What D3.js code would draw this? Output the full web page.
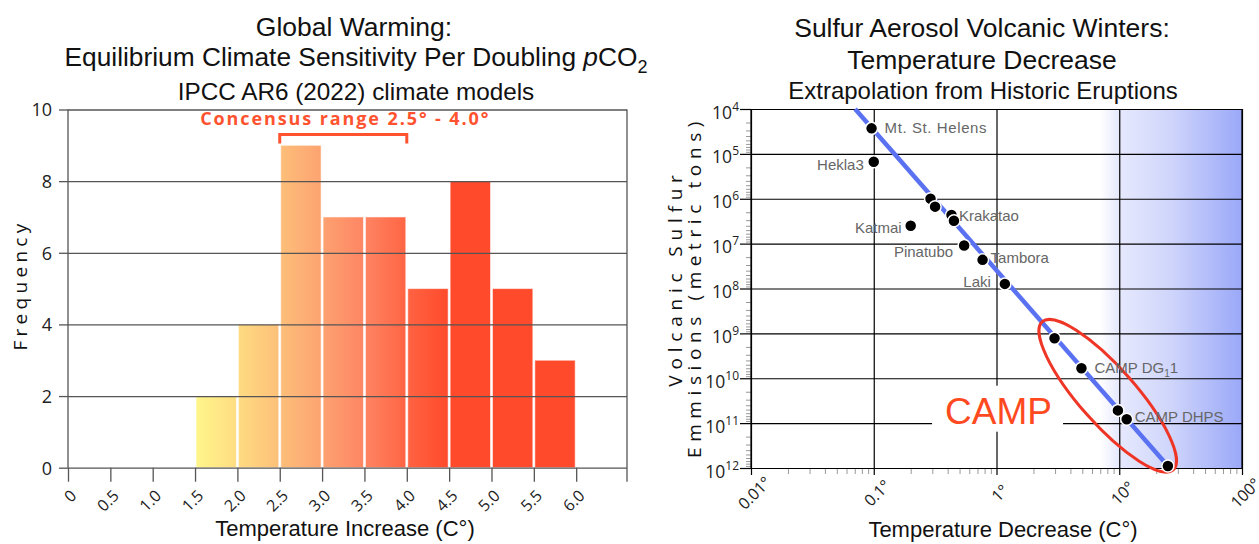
<!DOCTYPE html>
<html>
<head>
<meta charset="utf-8">
<script src="https://cdn.jsdelivr.net/npm/d3@7"></script>
<style>
  html, body { margin: 0; padding: 0; background: #fff; }
  svg { display: block; }
</style>
</head>
<body>
<script>
// ---------------- DATA: left chart (ECS histogram) ----------------
const binStart = [1.5, 2.0, 2.5, 3.0, 3.5, 4.0, 4.5, 5.0, 5.5];
const binEnd   = [2.0, 2.5, 3.0, 3.5, 4.0, 4.5, 5.0, 5.5, 6.0];
const frequency = [2, 4, 9, 7, 7, 5, 8, 5, 3];
const ecsTickValues = [0, 0.5, 1.0, 1.5, 2.0, 2.5, 3.0, 3.5, 4.0, 4.5, 5.0, 5.5, 6.0];
const ecsTickLabels = ["0", "0.5", "1.0", "1.5", "2.0", "2.5", "3.0", "3.5", "4.0", "4.5", "5.0", "5.5", "6.0"];
const freqTicks = [0, 2, 4, 6, 8, 10];
const consensusRange = [2.5, 4.0];
const consensusLevel = 9.3;
const consensusText = "Concensus range 2.5° - 4.0°";

// ---------------- DATA: right chart (volcanic winters) ----------------
const eruptionName = ["Mt. St. Helens", "Hekla3", "Katmai", "", "", "", "Krakatao", "Pinatubo", "Tambora", "Laki", "", "CAMP DG11", "", "CAMP DHPS", ""];
const tempDecrease = [0.096, 0.1, 0.2, 0.29, 0.316, 0.43, 0.45, 0.545, 0.77, 1.17, 2.97, 4.92, 9.75, 11.5, 24.9];
const sulfurTons   = [2.7e4, 1.5e5, 4e6, 1e6, 1.5e6, 2.3e6, 3.1e6, 1.1e7, 2.3e7, 7.9e7, 1.28e9, 5.96e9, 5.2e10, 8.2e10, 9e11];
const fitTemp   = [0.0705, 24.9];
const fitSulfur = [1e4, 9e11];
const tempTicks = [0.01, 0.1, 1, 10, 100];
const tempTickLabels = ["0.01°", "0.1°", "1°", "10°", "100°"];
const sulfurExponents = [4, 5, 6, 7, 8, 9, 10, 11, 12];
const campEllipseTemp = [2.36, 27.5];
const campEllipseSulfur = [5.5e8, 1.1e12];
const campLabelTemp = 0.381;
const campLabelSulfur = 1.03e11;

// ---------------- presentation (not data) ----------------
const labelPlacement = {
  "Mt. St. Helens": {dx: 13, dy: 5, anchor: "start"},
  "Hekla3": {dx: -10, dy: 8, anchor: "end"},
  "Katmai": {dx: -9, dy: 7, anchor: "end"},
  "Krakatao": {dx: 5, dy: 0, anchor: "start"},
  "Pinatubo": {dx: -11, dy: 12, anchor: "end"},
  "Tambora": {dx: 8, dy: 3, anchor: "start"},
  "Laki": {dx: -14, dy: 3, anchor: "end"},
  "CAMP DG11": {dx: 13, dy: 5, anchor: "start"},
  "CAMP DHPS": {dx: 8, dy: 3, anchor: "start"}
};

const W = 1259, H = 544;
const svg = d3.select("body").append("svg").attr("width", W).attr("height", H)
  .style("font-family", "'Liberation Sans', Arial, sans-serif");
svg.append("rect").attr("width", W).attr("height", H).attr("fill", "#fff");
const defs = svg.append("defs");

// =================== LEFT CHART ===================
const xL = d3.scaleLinear().domain([0, 6.6]).range([68, 627]);
const yL = d3.scaleLinear().domain([0, 10]).range([467.7, 109.5]);

const barGrad = defs.append("linearGradient").attr("id", "barGrad")
  .attr("gradientUnits", "userSpaceOnUse")
  .attr("x1", xL(1.5)).attr("x2", xL(4.5)).attr("y1", 0).attr("y2", 0);
[[0, "#fff68a"], [0.1667, "#fedc82"], [0.3333, "#fdbf79"], [0.5, "#fda271"],
 [0.6667, "#fe8563"], [0.8333, "#ff6443"], [1, "#ff4a2b"]]
  .forEach(([o, c]) => barGrad.append("stop").attr("offset", o).attr("stop-color", c));

const left = svg.append("g");

left.selectAll("rect.bar").data(frequency).join("rect")
  .attr("class", "bar")
  .attr("x", (d, i) => xL(binStart[i]) + 1)
  .attr("width", (d, i) => xL(binEnd[i]) - xL(binStart[i]) - 2)
  .attr("y", d => yL(d))
  .attr("height", d => yL(0) - yL(d))
  .attr("fill", "url(#barGrad)")
  .attr("stroke", "rgba(255,255,255,0.55)")
  .attr("stroke-width", 1);

// grid lines (drawn over bars)
const gridL = left.append("g").attr("transform", `translate(${xL(0)},0)`)
  .call(d3.axisLeft(yL).tickValues(freqTicks).tickSize(-(xL(6.6) - xL(0))).tickFormat(""));
gridL.select(".domain").remove();
gridL.selectAll("line").attr("stroke", "#555").attr("stroke-width", 1.3);

const yAxL = left.append("g").attr("transform", `translate(${xL(0)},0)`)
  .call(d3.axisLeft(yL).tickValues(freqTicks).tickSize(9).tickPadding(7));
yAxL.select(".domain").remove();
yAxL.selectAll("line").attr("stroke", "#555").attr("stroke-width", 1.3);
yAxL.selectAll("text").attr("font-family", "'Open Sans', sans-serif").attr("font-size", 18)
  .attr("fill", "#222").attr("dy", "0.36em").attr("x", -16);

// vertical frame lines
left.append("line").attr("x1", xL(0)).attr("x2", xL(0)).attr("y1", yL(10)).attr("y2", yL(0))
  .attr("stroke", "#555").attr("stroke-width", 1.3);
left.append("line").attr("x1", xL(6.6)).attr("x2", xL(6.6)).attr("y1", yL(10)).attr("y2", yL(0) + 14)
  .attr("stroke", "#555").attr("stroke-width", 1.3);

const xAxL = left.append("g").attr("transform", `translate(0,${yL(0)})`)
  .call(d3.axisBottom(xL).tickValues(ecsTickValues).tickSize(14).tickFormat((d, i) => ecsTickLabels[i]));
xAxL.select(".domain").remove();
xAxL.selectAll("line").attr("stroke", "#555").attr("stroke-width", 1.3);
xAxL.selectAll("text").attr("font-family", "'Open Sans', sans-serif").attr("font-size", 16)
  .attr("fill", "#222").attr("y", null).attr("dy", null).attr("x", null)
  .attr("text-anchor", "end").attr("transform", "translate(9,29) rotate(-45)");

// consensus bracket
const cY = yL(consensusLevel);
left.append("path")
  .attr("d", `M${xL(consensusRange[0])},${cY + 9}V${cY}H${xL(consensusRange[1])}V${cY + 9}`)
  .attr("fill", "none").attr("stroke", "#ff5330").attr("stroke-width", 3);
left.append("text").attr("x", (xL(consensusRange[0]) + xL(consensusRange[1])) / 2 + 2).attr("y", cY - 10)
  .attr("text-anchor", "middle").attr("font-family", "'Open Sans', sans-serif")
  .attr("font-weight", "bold").attr("font-size", 18).attr("letter-spacing", 1.9)
  .attr("fill", "#ff5330").text(consensusText);

// titles
left.append("text").attr("x", 354).attr("y", 36).attr("text-anchor", "middle")
  .attr("font-size", 26.5).attr("fill", "#111").text("Global Warming:");
const lt2 = left.append("text").attr("x", 356).attr("y", 66).attr("text-anchor", "middle")
  .attr("font-size", 26.3).attr("fill", "#111");
lt2.append("tspan").text("Equilibrium Climate Sensitivity Per Doubling ");
lt2.append("tspan").attr("font-style", "italic").text("p");
lt2.append("tspan").text("CO");
lt2.append("tspan").attr("font-size", 18).attr("dy", 7).text("2");
left.append("text").attr("x", 356).attr("y", 100).attr("text-anchor", "middle")
  .attr("font-size", 24.3).attr("fill", "#111").text("IPCC AR6 (2022) climate models");

left.append("text").attr("x", 345).attr("y", 536).attr("text-anchor", "middle")
  .attr("font-size", 22).attr("fill", "#111").text("Temperature Increase (C°)");
left.append("text").attr("transform", "translate(27,285) rotate(-90)").attr("text-anchor", "middle")
  .attr("font-family", "'Open Sans', sans-serif").attr("font-size", 19).attr("letter-spacing", 4.3)
  .attr("fill", "#111").text("Frequency");

// =================== RIGHT CHART ===================
const xR = d3.scaleLog().domain([0.01, 100]).range([751, 1242]);
const yR = d3.scaleLog().domain([1e4, 1e12]).range([109, 468]);
const right = svg.append("g");

const bgGrad = defs.append("linearGradient").attr("id", "bgGrad")
  .attr("gradientUnits", "userSpaceOnUse")
  .attr("x1", xR(7)).attr("x2", xR(100)).attr("y1", 0).attr("y2", 0);
[[0, "#ffffff"], [0.12, "#e7eafd"], [0.5, "#cfd5fb"], [1, "#9aa8f8"]]
  .forEach(([o, c]) => bgGrad.append("stop").attr("offset", o).attr("stop-color", c));
right.append("rect").attr("x", xR(0.01)).attr("y", yR(1e4))
  .attr("width", xR(100) - xR(0.01)).attr("height", yR(1e12) - yR(1e4))
  .attr("fill", "url(#bgGrad)");

const decades = sulfurExponents.map(e => Math.pow(10, e));
const minorY = [];
sulfurExponents.slice(0, -1).forEach(e => { for (let m = 2; m <= 9; m++) minorY.push(m * Math.pow(10, e)); });
const minorX = [];
[-2, -1, 0, 1].forEach(e => { for (let m = 2; m <= 9; m++) minorX.push(m * Math.pow(10, e)); });

// minor ticks
const myAx = right.append("g").attr("transform", `translate(${xR(0.01)},0)`)
  .call(d3.axisLeft(yR).tickValues(minorY).tickSize(5).tickFormat(""));
myAx.select(".domain").remove();
myAx.selectAll("line").attr("stroke", "#999").attr("stroke-width", 1);
const mxAx = right.append("g").attr("transform", `translate(0,${yR(1e12)})`)
  .call(d3.axisBottom(xR).tickValues(minorX).tickSize(6).tickFormat(""));
mxAx.select(".domain").remove();
mxAx.selectAll("line").attr("stroke", "#999").attr("stroke-width", 1);

// horizontal grid
const gridR = right.append("g").attr("transform", `translate(${xR(0.01)},0)`)
  .call(d3.axisLeft(yR).tickValues(decades).tickSize(-(xR(100) - xR(0.01))).tickFormat(""));
gridR.select(".domain").remove();
gridR.selectAll("line").attr("stroke", "#000").attr("stroke-width", 1.2);
// vertical grid
const vgrid = right.append("g").attr("transform", `translate(0,${yR(1e12)})`)
  .call(d3.axisBottom(xR).tickValues(tempTicks).tickSize(-(yR(1e12) - yR(1e4))).tickFormat(""));
vgrid.select(".domain").remove();
vgrid.selectAll("line").attr("stroke", "#000").attr("stroke-width", 1.2);

// major y ticks + labels
const yAxR = right.append("g").attr("transform", `translate(${xR(0.01)},0)`)
  .call(d3.axisLeft(yR).tickValues(decades).tickSize(11).tickFormat(""));
yAxR.select(".domain").remove();
yAxR.selectAll("line").attr("stroke", "#000").attr("stroke-width", 1.2);
yAxR.selectAll(".tick").append("text")
  .attr("x", -12).attr("y", 9).attr("text-anchor", "end")
  .attr("font-family", "'Open Sans', sans-serif").attr("font-size", 17.5).attr("fill", "#222")
  .each(function(d, i) {
    const t = d3.select(this);
    t.append("tspan").text("10");
    t.append("tspan").attr("dy", -8).attr("font-size", 12).text(sulfurExponents[i]);
  });

// major x ticks + labels
const xAxR = right.append("g").attr("transform", `translate(0,${yR(1e12)})`)
  .call(d3.axisBottom(xR).tickValues(tempTicks).tickSize(7).tickFormat((d, i) => tempTickLabels[i]));
xAxR.select(".domain").remove();
xAxR.selectAll("line").attr("stroke", "#000").attr("stroke-width", 1.2);
xAxR.selectAll("text").attr("font-family", "'Open Sans', sans-serif").attr("font-size", 16)
  .attr("fill", "#222").attr("y", null).attr("dy", null).attr("x", null)
  .attr("text-anchor", "middle").attr("transform", "translate(7,29) rotate(-45)");

// frame lines
right.append("line").attr("x1", xR(0.01)).attr("x2", xR(0.01)).attr("y1", yR(1e4)).attr("y2", yR(1e12))
  .attr("stroke", "#000").attr("stroke-width", 1.2);
right.append("line").attr("x1", xR(100)).attr("x2", xR(100)).attr("y1", yR(1e4)).attr("y2", yR(1e12))
  .attr("stroke", "#000").attr("stroke-width", 1.2);

// CAMP label with white backing
const cx0 = xR(campLabelTemp), cy0 = yR(campLabelSulfur);
right.append("rect").attr("x", cx0 - 13).attr("y", cy0 - 38).attr("width", 131).attr("height", 46).attr("fill", "#fff");
right.append("text").attr("x", cx0).attr("y", cy0).attr("font-size", 37).attr("fill", "#ff4a1f").text("CAMP");

// regression line
const fit = fitTemp.map((t, i) => ({t, s: fitSulfur[i]}));
right.append("path").datum(fit)
  .attr("d", d3.line().x(d => xR(d.t)).y(d => yR(d.s)))
  .attr("stroke", "#5a72f2").attr("stroke-width", 4.5).attr("fill", "none");

// ellipse
const p1 = [xR(campEllipseTemp[0]), yR(campEllipseSulfur[0])];
const p2 = [xR(campEllipseTemp[1]), yR(campEllipseSulfur[1])];
const ecx = (p1[0] + p2[0]) / 2, ecy = (p1[1] + p2[1]) / 2;
const ang = Math.atan2(p2[1] - p1[1], p2[0] - p1[0]) * 180 / Math.PI;
const erx = Math.hypot(p2[0] - p1[0], p2[1] - p1[1]) / 2;
right.append("ellipse").attr("transform", `translate(${ecx},${ecy}) rotate(${ang})`)
  .attr("rx", erx).attr("ry", 28).attr("fill", "none").attr("stroke", "#ee3526").attr("stroke-width", 3);

// dots
const pts = tempDecrease.map((t, i) => ({t, s: sulfurTons[i], name: eruptionName[i]}));
right.selectAll("circle.pt").data(pts).join("circle").attr("class", "pt")
  .attr("cx", d => xR(d.t)).attr("cy", d => yR(d.s)).attr("r", 6)
  .attr("fill", "#000").attr("stroke", "#fff").attr("stroke-width", 1.5);

// point labels
right.selectAll("text.lbl").data(pts.filter(d => d.name)).join("text").attr("class", "lbl")
  .attr("x", d => xR(d.t) + labelPlacement[d.name].dx)
  .attr("y", d => yR(d.s) + labelPlacement[d.name].dy)
  .attr("text-anchor", d => labelPlacement[d.name].anchor)
  .attr("font-size", 15).attr("fill", "#666")
  .each(function(d) {
    const t = d3.select(this);
    if (d.name === "CAMP DG11") {
      t.append("tspan").text("CAMP DG");
      t.append("tspan").attr("font-size", 10).attr("dy", 4).text("1");
      t.append("tspan").attr("dy", -4).text("1");
    } else if (d.name === "Mt. St. Helens") {
      t.attr("letter-spacing", 0.6).text(d.name);
    } else {
      t.text(d.name);
    }
  });

// titles
right.append("text").attr("x", 982).attr("y", 37).attr("text-anchor", "middle")
  .attr("font-size", 26.5).attr("fill", "#111").text("Sulfur Aerosol Volcanic Winters:");
right.append("text").attr("x", 982).attr("y", 69).attr("text-anchor", "middle")
  .attr("font-size", 26.5).attr("fill", "#111").text("Temperature Decrease");
right.append("text").attr("x", 983).attr("y", 99).attr("text-anchor", "middle")
  .attr("font-size", 24).attr("fill", "#111").text("Extrapolation from Historic Eruptions");

right.append("text").attr("x", 1003).attr("y", 537).attr("text-anchor", "middle")
  .attr("font-size", 22).attr("fill", "#111").text("Temperature Decrease (C°)");
right.append("text").attr("transform", "translate(682,278) rotate(-90)").attr("text-anchor", "middle")
  .attr("font-family", "'Open Sans', sans-serif").attr("font-size", 19).attr("letter-spacing", 5.8)
  .attr("fill", "#111").text("Volcanic Sulfur");
right.append("text").attr("transform", "translate(701,287) rotate(-90)").attr("text-anchor", "middle")
  .attr("font-family", "'Open Sans', sans-serif").attr("font-size", 19).attr("letter-spacing", 5.6)
  .attr("fill", "#111").text("Emmisions (metric tons)");
</script>
</body>
</html>
